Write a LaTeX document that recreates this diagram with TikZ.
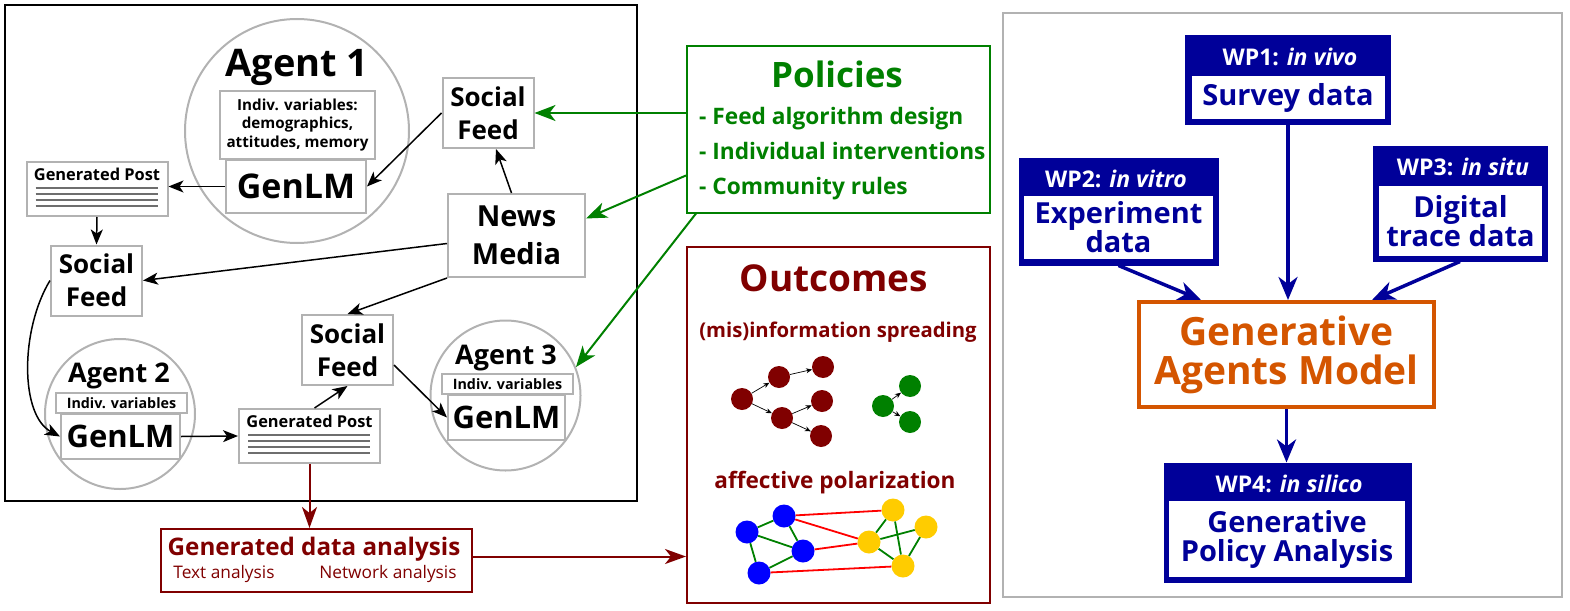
\documentclass[tikz,border=0pt]{standalone}
\usepackage{fontspec}
\setmainfont{Open Sans}
\usetikzlibrary{arrows.meta}
\definecolor{agentgray}{RGB}{178,178,178}
\definecolor{linegray}{RGB}{110,110,110}
\definecolor{polgreen}{RGB}{0,128,0}
\definecolor{outred}{RGB}{128,0,0}
\definecolor{wpblue}{RGB}{0,0,153}
\definecolor{gamorange}{RGB}{212,85,0}
\definecolor{polyellow}{RGB}{255,204,0}
\newcommand{\fsz}[2]{\fontsize{#1}{#2}\selectfont}

\begin{document}
\begin{tikzpicture}[x=1pt, y=-1pt,
    every node/.style={inner sep=0pt},
    agent/.style={circle, draw=agentgray, line width=2pt, minimum size=#1},
    agenttitle/.style={anchor=base, font=\bfseries\fsz{#1}{#1}},
    graybox/.style={rectangle, draw=agentgray, line width=2pt, fill=white, align=center},
    feed/.style={graybox, minimum width=91pt, minimum height=70pt, font=\bfseries\fsz{26}{33}},
    varbox/.style={graybox, font=\bfseries\fsz{14.3}{18.7}},
    lmbox/.style={graybox, font=\bfseries\fsz{31}{36}},
    postbox/.style={graybox, minimum width=141pt, minimum height=54pt},
    posttext/.style={anchor=base, font=\bfseries\fsz{16.4}{18}},
    postline/.style={draw=linegray, line width=1.5pt},
    blk/.style={-{Stealth[length=15pt,width=12pt,inset=4pt]}, line width=1.5pt},
    grn/.style={-{Stealth[length=21pt,width=16pt,inset=6pt]}, draw=polgreen, line width=2pt},
    drd/.style={-{Stealth[length=21pt,width=15pt,inset=6pt]}, draw=outred, line width=2pt},
    blu/.style={-{Stealth[length=23pt,width=19pt,inset=7pt]}, draw=wpblue, line width=3.5pt},
    tiny/.style={-{Stealth[length=6pt,width=5pt]}, line width=0.7pt},
    dot/.style={circle, fill=#1, minimum size=22pt},
    pdot/.style={circle, fill=#1, minimum size=23pt},
    redtext/.style={anchor=base, text=outred, font=\bfseries\fsz{#1}{#1}},
    polline/.style={anchor=base west, text=polgreen, font=\bfseries\fsz{22.7}{22.7}},
    wpouter/.style={fill=wpblue, draw=wpblue, line width=1pt},
    wpinner/.style={fill=white, align=center, text=wpblue, font=\bfseries\fsz{29}{29}},
    wphead/.style={anchor=base, text=white, font=\bfseries\fsz{23}{23}}]
\useasboundingbox (0,0) rectangle (1570,610);

% simulation
\draw[line width=2.5pt] (5,5) rectangle (637,501);

\node[agent=224pt] (a1) at (297,131) {};
\node[agenttitle=38] at (297,77) {Agent 1};
\node[varbox, minimum width=155pt, minimum height=68pt, font=\bfseries\fsz{15.2}{18.7}] (a1var) at (297.5,125) {Indiv. variables:\\demographics,\\attitudes, memory};
\node[lmbox, minimum width=140pt, minimum height=53pt, font=\bfseries\fsz{34}{38}] (a1lm) at (296,186.5) {GenLM};

\node[feed] (sf1) at (488,113) {Social\\Feed};
\node[graybox, minimum width=137pt, minimum height=83pt, font=\bfseries\fsz{29}{38}] (news) at (516.5,235.5) {News\\Media};
\node[feed] (sf2) at (96.5,280.5) {Social\\Feed};
\node[feed] (sf3) at (347.5,350) {Social\\Feed};

\node[postbox] (gp1) at (97,189) {};
\node[posttext] at ([yshift=-19pt]gp1.north) {Generated Post};
\foreach \dy in {27,33,39,45}
    \draw[postline] ([xshift=10pt,yshift=-\dy]gp1.north west) -- ([xshift=-11pt,yshift=-\dy]gp1.north east);

\node[agent=150pt] (a2) at (120,414) {};
\node[agenttitle=27] at (119,382) {Agent 2};
\node[varbox, minimum width=131pt, minimum height=20pt] (a2var) at (121.5,403) {Indiv. variables};
\node[lmbox, minimum width=119pt, minimum height=45pt] (a2lm) at (120.5,436.5) {GenLM};

\node[postbox] (gp2) at (309.5,436) {};
\node[posttext] at ([yshift=-19pt]gp2.north) {Generated Post};
\foreach \dy in {27,33,39,45}
    \draw[postline] ([xshift=10pt,yshift=-\dy]gp2.north west) -- ([xshift=-11pt,yshift=-\dy]gp2.north east);

\node[agent=150pt] (a3) at (505.5,395.5) {};
\node[agenttitle=27] at (506,364) {Agent 3};
\node[varbox, minimum width=131pt, minimum height=20pt] (a3var) at (507.5,384) {Indiv. variables};
\node[lmbox, minimum width=117pt, minimum height=45pt] (a3lm) at (506.5,417.5) {GenLM};

\draw[blk] (a1lm.west) -- (a1lm.west -| gp1.east);
\draw[blk] (gp1.south) -- (sf2.north);
\draw[blk] (sf1.west) -- (a1lm.east);
\draw[blk] ([xshift=-5pt]news.north) -- ([xshift=8pt]sf1.south);
\draw[blk] ([yshift=-8pt]news.west) -- (sf2.east);
\draw[blk] (news.south west) -- (sf3.north);
\draw[blk] (sf2.west) .. controls (20,330) and (20,415) .. (a2lm.west);
\draw[blk] (a2lm.east) -- (gp2.west);
\draw[blk] ([xshift=5pt]gp2.north) -- (sf3.south);
\draw[blk] ([yshift=-15pt]sf3.east) -- (a3lm.west);

% analysis
\node[draw=outred, line width=2pt, minimum width=311pt, minimum height=63pt] (gda) at (316.5,560.5) {};
\node[redtext=24.2] at (314,555) {Generated data analysis};
\node[anchor=base, text=outred, font=\fsz{17.3}{17.3}] at (224,578) {Text analysis};
\node[anchor=base, text=outred, font=\fsz{17.3}{17.3}] at (388,578) {Network analysis};

% policies
\node[draw=polgreen, line width=2pt, minimum width=303pt, minimum height=166pt] (pol) at (838.5,129.5) {};
\node[anchor=base, text=polgreen, font=\bfseries\fsz{35}{35}] at (837,87) {Policies};
\node[polline] at (699,124) {- Feed algorithm design};
\node[polline] at (699,159) {- Individual interventions};
\node[polline] at (699,194) {- Community rules};

\draw[grn] (pol.west |- sf1.east) -- (sf1.east);
\draw[grn] ([yshift=-46pt]pol.west) -- ([yshift=17pt]news.east);
\draw[grn] ([xshift=10pt]pol.south west) -- (a3.22);

% outcomes
\node[draw=outred, line width=2pt, minimum width=303pt, minimum height=356pt] (outc) at (838.5,425) {};
\node[redtext=37] at (834,291) {Outcomes};
\node[redtext=20.3] at (838,337) {(mis)information spreading};
\node[redtext=22.6] at (835,488) {affective polarization};

\draw[drd] (gp2.south) -- (gp2.south |- gda.north);
\draw[drd] ([yshift=4pt]gda.east) -- ([yshift=4pt]gda.east -| outc.west);

\node[dot=outred] (m1) at (742,399) {};
\node[dot=outred] (m2) at (779,377) {};
\node[dot=outred] (m3) at (823,367) {};
\node[dot=outred] (m4) at (782,418) {};
\node[dot=outred] (m5) at (822,401) {};
\node[dot=outred] (m6) at (821,436) {};
\node[dot=polgreen] (g1) at (883,406) {};
\node[dot=polgreen] (g2) at (910,386) {};
\node[dot=polgreen] (g3) at (910,422) {};
\foreach \s/\t in {m1/m2, m1/m4, m2/m3, m4/m5, m4/m6, g1/g2, g1/g3}
    \draw[tiny] (\s) -- (\t);

\node[pdot=blue] (p1) at (747,532) {};
\node[pdot=blue] (p2) at (784,516) {};
\node[pdot=blue] (p3) at (803,551) {};
\node[pdot=blue] (p4) at (759,573) {};
\node[pdot=polyellow] (q1) at (893,510) {};
\node[pdot=polyellow] (q2) at (926,527) {};
\node[pdot=polyellow] (q3) at (869,542) {};
\node[pdot=polyellow] (q4) at (903,566) {};
\foreach \s/\t in {p1/p2, p1/p3, p2/p3, p1/p4, p4/p3, q1/q3, q1/q4, q3/q2, q2/q4, q3/q4}
    \draw[polgreen, line width=1.8pt] (\s) -- (\t);
\foreach \s/\t in {p2/q1, p2/q3, p3/q3, p4/q4}
    \draw[red, line width=1.8pt] (\s) -- (\t);

% work packages
\draw[agentgray, line width=1.5pt] (1003,13) rectangle (1562,597);

\node[wpouter, minimum width=205pt, minimum height=88pt] (wp1) at (1288,80) {};
\node[wpinner, minimum width=193pt, minimum height=43pt] at (1288,97.5) {Survey data};
\node[wphead] at (1290,66) {WP1: \textit{in vivo}};

\node[wpouter, minimum width=199pt, minimum height=107pt] (wp2) at (1118.5,211.5) {};
\node[wpinner, minimum width=189pt, minimum height=63pt] at (1118.5,227.5) {Experiment\\data};
\node[wphead] at (1116,187) {WP2: \textit{in vitro}};

\node[wpouter, minimum width=174pt, minimum height=115pt] (wp3) at (1460,203.5) {};
\node[wpinner, minimum width=163pt, minimum height=70pt] at (1460.5,221) {Digital\\trace data};
\node[wphead] at (1463,175) {WP3: \textit{in situ}};

\node[draw=gamorange, line width=4pt, minimum width=295pt, minimum height=105pt, text=gamorange, align=center, font=\bfseries\fsz{39}{39}] (gam) at (1286.5,354.5) {Generative\\Agents Model};

\node[wpouter, minimum width=247pt, minimum height=119pt] (wp4) at (1287.5,522.5) {};
\node[wpinner, minimum width=236pt, minimum height=76pt] at (1287,539) {Generative\\Policy Analysis};
\node[wphead] at (1289,492) {WP4: \textit{in silico}};

\draw[blu] (wp1.south) -- (wp1.south |- gam.north);
\draw[blu] (wp2.south) -- ([xshift=64pt]gam.north west);
\draw[blu] (wp3.south) -- ([xshift=-64pt]gam.north east);
\draw[blu] (gam.south) -- (gam.south |- wp4.north);
\end{tikzpicture}
\end{document}
